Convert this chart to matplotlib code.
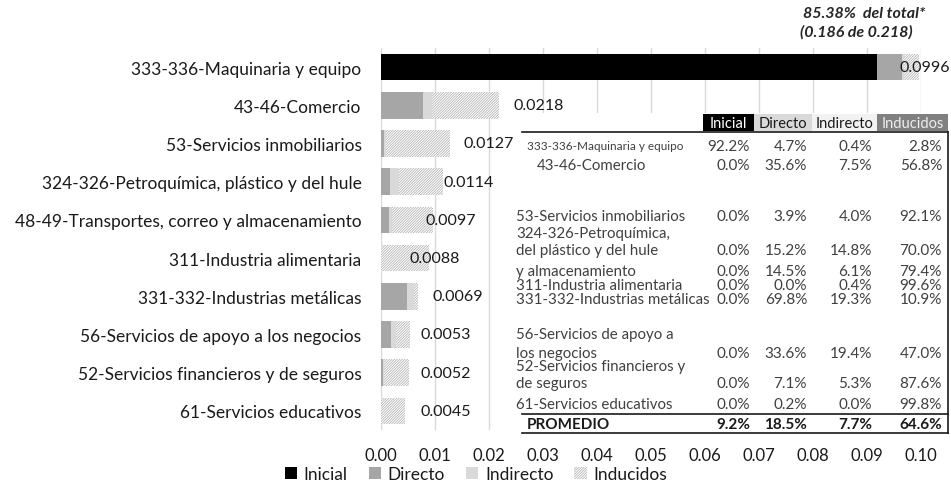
import matplotlib
matplotlib.use('Agg')
import matplotlib.pyplot as plt
from matplotlib.patches import Patch, Rectangle
import numpy as np

plt.rcParams['font.family'] = ['Lato', 'DejaVu Sans']
plt.rcParams['hatch.linewidth'] = 0.5

# data
categories = [
    "333-336-Maquinaria y equipo",
    "43-46-Comercio",
    "53-Servicios inmobiliarios",
    "324-326-Petroquímica, plástico y del hule",
    "48-49-Transportes, correo y almacenamiento",
    "311-Industria alimentaria",
    "331-332-Industrias metálicas",
    "56-Servicios de apoyo a los negocios",
    "52-Servicios financieros y de seguros",
    "61-Servicios educativos",
]
totals = [0.0996, 0.0218, 0.0127, 0.0114, 0.0097, 0.0088, 0.0069, 0.0053, 0.0052, 0.0045]
total_labels = ["0.0996", "0.0218", "0.0127", "0.0114", "0.0097", "0.0088", "0.0069", "0.0053", "0.0052", "0.0045"]
inicial = [92.2, 0.0, 0.0, 0.0, 0.0, 0.0, 0.0, 0.0, 0.0, 0.0]
directo = [4.7, 35.6, 3.9, 15.2, 14.5, 0.0, 69.8, 33.6, 7.1, 0.2]
indirecto = [0.4, 7.5, 4.0, 14.8, 6.1, 0.4, 19.3, 19.4, 5.3, 0.0]
inducidos = [2.8, 56.8, 92.1, 70.0, 79.4, 99.6, 10.9, 47.0, 87.6, 99.8]
promedio = [9.2, 18.5, 7.7, 64.6]
xticks = [0.00, 0.01, 0.02, 0.03, 0.04, 0.05, 0.06, 0.07, 0.08, 0.09, 0.10]

# table rows as they appear in the overlay (label lines, row with values)
table_rows = [
    (["333-336-Maquinaria y equipo"], 0),
    (["43-46-Comercio"], 1),
    (["53-Servicios inmobiliarios"], 2),
    (["324-326-Petroquímica,", "del plástico y del hule"], 3),
    (["y almacenamiento"], 4),
    (["311-Industria alimentaria"], 5),
    (["331-332-Industrias metálicas"], 6),
    (["56-Servicios de apoyo a", "los negocios"], 7),
    (["52-Servicios financieros y", "de seguros"], 8),
    (["61-Servicios educativos"], 9),
]

# layout (pixels of the overlay)
label_x = [0.0961, 0.0245, 0.0152, 0.0115, 0.0082, 0.0052, 0.0095, 0.0073, 0.0073, 0.0073]
row_y = [[147], [166], [217], [234, 251], [272], [286], [300], [335, 354], [367, 384], [405]]
row_x = [527, 537, 516, 516, 516, 516, 516, 516, 516, 516]

colors = {'Inicial': '#000000', 'Directo': '#a6a6a6', 'Indirecto': '#d9d9d9'}
hatch_col = '#aaaaaa'
hatch_pat = '/' * 13

W, H = 951, 485
fig = plt.figure(figsize=(W / 100, H / 100), dpi=100)
ax = fig.add_axes([381 / W, 1 - 431 / H, 540 / W, 382 / H])

tot = np.array(totals)
segs = [tot * np.array(inicial) / 100, tot * np.array(directo) / 100,
        tot * np.array(indirecto) / 100, tot * np.array(inducidos) / 100]
y = np.arange(len(categories))
left = np.zeros(len(categories))
for seg, name in zip(segs, ['Inicial', 'Directo', 'Indirecto', 'Inducidos']):
    if name == 'Inducidos':
        ax.barh(y, seg, left=left, height=0.7, color='white', edgecolor=hatch_col,
                linewidth=0, hatch=hatch_pat, zorder=2)
    else:
        ax.barh(y, seg, left=left, height=0.7, color=colors[name], linewidth=0, zorder=2)
    left += seg

for i, lab in enumerate(total_labels):
    ax.text(label_x[i], y[i], lab, ha='left', va='center', fontsize=11.5, color='#1a1a1a', zorder=3)

ax.set_xlim(0, 0.10)
ax.set_ylim(len(categories) - 0.5, -0.5)
ax.set_xticks(xticks)
ax.set_xticklabels([f"{t:.2f}" for t in xticks], fontsize=12, color='#1a1a1a')
ax.set_yticks(y)
ax.set_yticklabels(categories, fontsize=12.5, color='#1a1a1a')
ax.tick_params(length=0, pad=12, axis='x')
ax.tick_params(length=0, pad=14, axis='y')
ax.grid(axis='x', color='#d9d9d9', linewidth=1, zorder=0)
ax.set_axisbelow(True)
for s in ax.spines.values():
    s.set_visible(False)

# overlay in pixel coordinates for the table and annotation
ov = fig.add_axes([0, 0, 1, 1], zorder=5)
ov.set_xlim(0, W)
ov.set_ylim(H, 0)
ov.axis('off')
ov.patch.set_alpha(0)

ov.add_patch(Rectangle((513, 114), 437, 326, facecolor='white', edgecolor='none'))

hdr = [("Inicial", 703, 754, '#000000', 'white'),
       ("Directo", 754, 812, '#d9d9d9', '#1a1a1a'),
       ("Indirecto", 812, 877, '#f2f2f2', '#1a1a1a'),
       ("Inducidos", 877, 948, '#808080', '#eeeeee')]
for txt, x0, x1, bg, fg in hdr:
    ov.add_patch(Rectangle((x0, 115), x1 - x0, 17, facecolor=bg, edgecolor='none'))
    ov.text((x0 + x1) / 2, 124, txt, ha='center', va='center', fontsize=10.5, color=fg)

ov.plot([522, 948], [133, 133], color='#1a1a1a', lw=1.2)
ov.plot([948, 948], [133, 434], color='#1a1a1a', lw=1.2)
ov.plot([522, 948], [415, 415], color='#1a1a1a', lw=1.2)
ov.plot([522, 948], [434, 434], color='#1a1a1a', lw=1.2)

col_right = [750, 807, 872, 942]
tcol = '#404040'
for (lines, k), ys, x0 in zip(table_rows, row_y, row_x):
    fs = 8.5 if k == 0 else 10.8
    for ln, yy in zip(lines, ys):
        ov.text(x0, yy, ln, ha='left', va='center', fontsize=fs, color=tcol)
    vals = [inicial[k], directo[k], indirecto[k], inducidos[k]]
    for v, xr in zip(vals, col_right):
        ov.text(xr, ys[-1], f"{v:.1f}%", ha='right', va='center', fontsize=11, color=tcol)

ov.text(527, 425, "PROMEDIO", ha='left', va='center', fontsize=11, color='#1a1a1a', fontweight='bold')
for v, xr in zip(promedio, col_right):
    ov.text(xr, 425, f"{v:.1f}%", ha='right', va='center', fontsize=11, color='#1a1a1a', fontweight='bold')

ov.text(803, 14, "85.38%  del total*", ha='left', va='center', fontsize=11.5,
        fontweight='bold', fontstyle='italic', color='#262626')
ov.text(800, 32, "(0.186 de 0.218)", ha='left', va='center', fontsize=11.5,
        fontweight='bold', fontstyle='italic', color='#262626')

handles = [Patch(facecolor=colors['Inicial'], edgecolor='none', label='Inicial'),
           Patch(facecolor=colors['Directo'], edgecolor='none', label='Directo'),
           Patch(facecolor=colors['Indirecto'], edgecolor='none', label='Indirecto'),
           Patch(facecolor='white', edgecolor=hatch_col, linewidth=0, hatch=hatch_pat, label='Inducidos')]
fig.legend(handles=handles, loc='center', bbox_to_anchor=(476 / W, 1 - 475 / H), ncol=4,
           frameon=False, fontsize=12.5, handlelength=0.7, handleheight=0.7,
           handletextpad=0.4, columnspacing=1.2, labelcolor='#1a1a1a')

fig.savefig('out.png', dpi=100)
plt.close(fig)
